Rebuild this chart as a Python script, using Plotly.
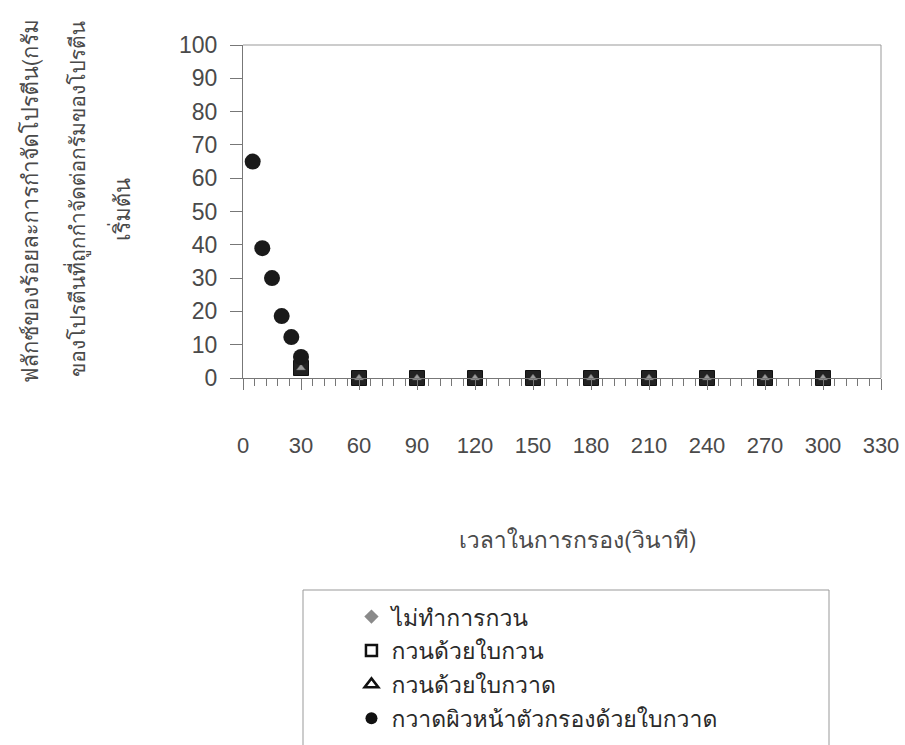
import plotly.graph_objects as go

# ---- data ----
time_scrape = [5, 10, 15, 20, 25, 30]
flux_scrape = [65, 39, 30, 18.6, 12.3, 6.3]

time_other = [30, 60, 90, 120, 150, 180, 210, 240, 270, 300]
flux_none = [3, 0, 0, 0, 0, 0, 0, 0, 0, 0]
flux_stir_blade = [3, 0, 0, 0, 0, 0, 0, 0, 0, 0]
flux_stir_scraper = [3, 0, 0, 0, 0, 0, 0, 0, 0, 0]

x_ticks = [0, 30, 60, 90, 120, 150, 180, 210, 240, 270, 300, 330]
y_ticks = [0, 10, 20, 30, 40, 50, 60, 70, 80, 90, 100]

names = ["ไม่ทำการกวน", "กวนด้วยใบกวน", "กวนด้วยใบกวาด", "กวาดผิวหน้าตัวกรองด้วยใบกวาด"]

y_title_lines = ["ฟลักซ์ของร้อยละการกำจัดโปรตีน(กรัม",
                 "ของโปรตีนที่ถูกกำจัดต่อกรัมของโปรตีน",
                 "เริ่มต้น"]
x_title = "เวลาในการกรอง(วินาที)"

FONT = "Liberation Sans, Arial, sans-serif"
THAI = "Loma, Garuda, Norasi, Noto Sans Thai Looped, Liberation Sans, sans-serif"
TXT = "#4a4a4a"

fig = go.Figure()

# plotted marks (hidden from legend)
fig.add_trace(go.Scatter(x=time_other, y=flux_none, mode="markers", showlegend=False,
                         marker=dict(symbol="diamond", size=12, color="#8a8a8a"), cliponaxis=False))
fig.add_trace(go.Scatter(x=time_other, y=flux_stir_blade, mode="markers", showlegend=False,
                         marker=dict(symbol="square", size=15, color="#222222",
                                     line=dict(color="#111111", width=1)), cliponaxis=False))
fig.add_trace(go.Scatter(x=time_other, y=flux_stir_scraper, mode="markers", showlegend=False,
                         marker=dict(symbol="triangle-up", size=8, color="#9a9a9a",
                                     line=dict(color="#555555", width=0.5)), cliponaxis=False))
fig.add_trace(go.Scatter(x=time_scrape, y=flux_scrape, mode="markers", showlegend=False,
                         marker=dict(symbol="circle", size=16, color="#1a1a1a"), cliponaxis=False))

# legend entries
legend_markers = [
    dict(symbol="diamond", size=11, color="#8a8a8a"),
    dict(symbol="square-open", size=11, color="#111111", line=dict(width=2.5, color="#111111")),
    dict(symbol="triangle-up-open", size=12, color="#111111", line=dict(width=2.5, color="#111111")),
    dict(symbol="circle", size=12, color="#111111"),
]
for i, (nm, mk) in enumerate(zip(names, legend_markers)):
    fig.add_trace(go.Scatter(x=[None], y=[None], mode="markers", name=nm,
                             legendgroup=f"g{i}", marker=mk))

ann = []
for txt, xc, yc, fs in zip(y_title_lines, [30, 77, 122], [201, 199, 210], [22, 21, 22]):
    ann.append(dict(text=txt, textangle=-90, xref="paper", yref="paper",
                    x=(xc - 243) / 638, y=(378 - yc) / 333, xanchor="center", yanchor="middle",
                    showarrow=False, font=dict(size=fs, color=TXT, family=THAI)))
ann.append(dict(text=x_title, xref="paper", yref="paper",
                x=(577 - 243) / 638, y=(378 - 540) / 333, xanchor="center", yanchor="middle",
                showarrow=False, font=dict(size=23, color=TXT, family=THAI)))

fig.update_layout(
    width=905, height=745,
    margin=dict(l=243, r=24, t=45, b=367, autoexpand=False),
    paper_bgcolor="white", plot_bgcolor="white",
    font=dict(family=FONT, size=22, color=TXT),
    showlegend=True,
    legend=dict(x=0.17, y=-0.652, xanchor="left", yanchor="top",
                bgcolor="rgba(0,0,0,0)", borderwidth=0,
                font=dict(size=23, color="#2a2a2a", family=THAI), itemsizing="trace",
                tracegroupgap=1),
    xaxis=dict(range=[0, 330], tickvals=x_ticks, ticks="outside", ticklen=11,
               tickcolor="#777777", showline=True, linecolor="#777777", linewidth=1,
               showgrid=False, zeroline=False, ticklabelstandoff=37,
               tickfont=dict(size=22, color=TXT, family=FONT),
               minor=dict(dtick=6, ticks="outside", ticklen=7, tickcolor="#777777", showgrid=False)),
    yaxis=dict(range=[0, 100], tickvals=y_ticks, ticks="outside", ticklen=12,
               tickcolor="#777777", showline=True, linecolor="#777777", linewidth=1,
               showgrid=False, zeroline=False, ticklabelstandoff=8,
               tickfont=dict(size=23, color=TXT, family=FONT)),
    shapes=[
        dict(type="line", xref="paper", yref="paper", x0=0, x1=1, y0=1, y1=1,
             line=dict(color="#999999", width=1)),
        dict(type="line", xref="paper", yref="paper", x0=1, x1=1, y0=0, y1=1,
             line=dict(color="#999999", width=1)),
        dict(type="rect", xref="paper", yref="paper",
             x0=(303 - 243) / 638, x1=(829 - 243) / 638,
             y0=(378 - 760) / 333, y1=(378 - 590) / 333,
             line=dict(color="#999999", width=1), fillcolor="rgba(0,0,0,0)"),
    ],
    annotations=ann,
)

fig.write_html("out.html")
